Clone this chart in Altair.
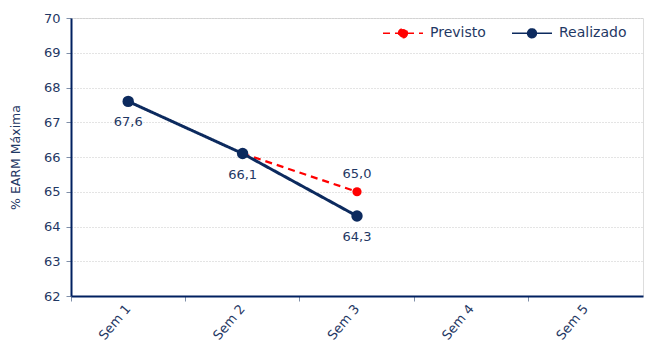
import altair as alt
import pandas as pd

weeks = ["Sem 1", "Sem 2", "Sem 3", "Sem 4", "Sem 5"]
prev_weeks = ["Sem 2", "Sem 3"]
prev_vals = [66.1, 65.0]
prev_show_label = [False, True]
real_weeks = ["Sem 1", "Sem 2", "Sem 3"]
real_vals = [67.6, 66.1, 64.3]

rows = []
for w, v, s in zip(prev_weeks, prev_vals, prev_show_label):
    rows.append({"sem": w, "v": v, "serie": "Previsto", "show": s})
for w, v in zip(real_weeks, real_vals):
    rows.append({"sem": w, "v": v, "serie": "Realizado", "show": True})
df = pd.DataFrame(rows)

NAVY = "#0C2A5E"
TXT = "#1F3864"
RED = "#FF0000"
FONT = "DejaVu Sans"
SERIES = ["Previsto", "Realizado"]

color = alt.Color("serie:N", scale=alt.Scale(domain=SERIES, range=[RED, NAVY]),
                  legend=alt.Legend(title=None, orient="none", legendX=311, legendY=-6, direction="horizontal",
                                    symbolType="M-1,0H1M0.22,0A0.22,0.22,0,1,1,-0.22,0A0.22,0.22,0,1,1,0.22,0Z",
                                    symbolSize=1600, symbolStrokeWidth=1.5, columnPadding=23,
                                    labelFont=FONT, labelFontSize=14, labelColor=TXT, labelOffset=6))
dash = alt.StrokeDash("serie:N", scale=alt.Scale(domain=SERIES, range=[[7, 5], [1, 0]]), legend=None)

xscale = alt.Scale(domain=weeks, type="band", paddingInner=0, paddingOuter=0)
xenc = alt.X("sem:N", scale=xscale,
             axis=alt.Axis(title=None, orient="bottom", bandPosition=0.5, labelAngle=310, labelAlign="right",
                           labelBaseline="middle",
                           labelFont=FONT, labelFontSize=13, labelColor=TXT, labelPadding=10, ticks=False,
                           domainColor="#002060", domainWidth=2, grid=False))
xticks = alt.X("sem:N", scale=xscale,
               axis=alt.Axis(title=None, orient="bottom", bandPosition=0, labels=False, ticks=True, tickSize=5,
                             tickColor="#7F8FA9", domain=False, grid=False))
yscale = alt.Scale(domain=[62, 70], nice=False, zero=False)
yenc = alt.Y("v:Q", scale=yscale,
             axis=alt.Axis(title="% EARM Máxima", values=list(range(62, 71)), titleFont=FONT, titleFontSize=12.5,
                           titleFontWeight="normal", titleColor=TXT, titlePadding=21,
                           labelFont=FONT, labelFontSize=13, labelColor=TXT, labelPadding=6,
                           tickSize=5, tickColor="#7F8FA9", domainColor="#002060", domainWidth=2,
                           grid=True, gridColor="#C8C8C8", gridDash=[1, 2], gridWidth=1))

base = alt.Chart(df)

ticks_layer = base.mark_point(opacity=0).encode(x=xticks, y=yenc)

line_prev = base.transform_filter("datum.serie == 'Previsto'").mark_line(strokeWidth=2.25).encode(
    x=xenc, y=yenc, color=color, strokeDash=dash, order=alt.Order("sem:N"))
line_real = base.transform_filter("datum.serie == 'Realizado'").mark_line(strokeWidth=3).encode(
    x=xenc, y=yenc, color=color, strokeDash=dash, order=alt.Order("sem:N"))
pts_prev = base.transform_filter("datum.serie == 'Previsto'").mark_point(filled=True, opacity=1, size=85).encode(
    x=xenc, y=yenc, color=color)
pts_real = base.transform_filter("datum.serie == 'Realizado'").mark_point(filled=True, opacity=1, size=130).encode(
    x=xenc, y=yenc, color=color)

lab_real = base.transform_filter("datum.serie == 'Realizado'").transform_calculate(
    lbl="replace(format(datum.v, '.1f'), '.', ',')").mark_text(dy=21, font=FONT, fontSize=13, color=TXT).encode(
    x=xenc, y=yenc, text="lbl:N")
lab_prev = base.transform_filter("datum.serie == 'Previsto' && datum.show").transform_calculate(
    lbl="replace(format(datum.v, '.1f'), '.', ',')").mark_text(dy=-18, font=FONT, fontSize=13, color=TXT).encode(
    x=xenc, y=yenc, text="lbl:N")

main = alt.layer(line_prev, pts_prev, line_real, pts_real, lab_real, lab_prev)

chart = alt.layer(ticks_layer, main).resolve_axis(x="independent").properties(
    width=572, height=278, autosize="none",
    padding={"left": 71, "top": 18, "right": 2, "bottom": 59}
).configure_view(stroke=None).configure(background="white")

chart.save("out.html", embed_options={"renderer": "svg", "actions": False})
